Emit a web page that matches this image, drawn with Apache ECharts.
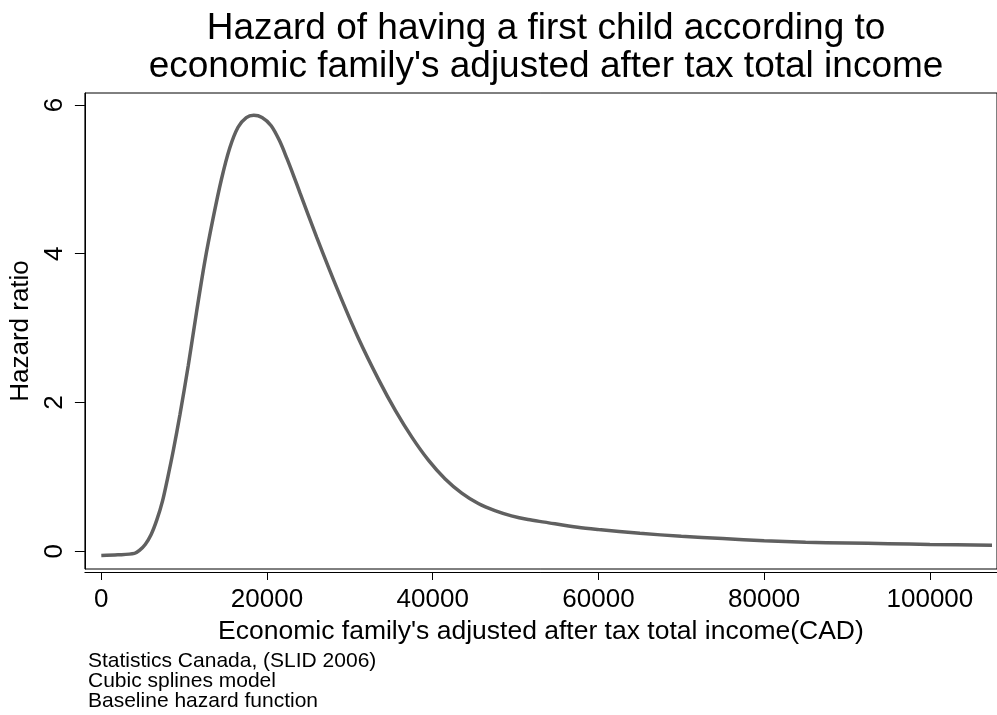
<!DOCTYPE html>
<html>
<head>
<meta charset="utf-8">
<script src="https://cdn.jsdelivr.net/npm/echarts@6/dist/echarts.min.js"></script>
<style>
  html, body { margin: 0; padding: 0; background: #fff; }
  #chart { width: 997px; height: 715px; }
</style>
</head>
<body>
<div id="chart"></div>
<script>
  // income (CAD) and baseline hazard ratio
  const income = [0, 2000, 4000, 4600, 5300, 6000, 6700, 7400, 8000, 8700, 9500,
    10500, 11500, 12500, 13500, 14500, 15500, 16500, 17500, 18400, 19400, 20500,
    21500, 22400, 23200, 24000, 26000, 28500, 31000, 33500, 35500, 37500, 39500,
    41500, 43500, 45500, 47500, 49500, 51500, 53500, 57500, 60000, 65000, 70000, 75000,
    80000, 85000, 90000, 95000, 100000, 107500]
  const hazard = [-0.06, -0.05, -0.03, 0.01, 0.09, 0.22, 0.42, 0.68, 0.98, 1.36, 1.84,
    2.50, 3.22, 3.90, 4.48, 5.00, 5.42, 5.70, 5.83, 5.86, 5.83, 5.72,
    5.52, 5.28, 5.05, 4.81, 4.22, 3.52, 2.87, 2.30, 1.89, 1.53, 1.22,
    0.97, 0.78, 0.64, 0.545, 0.475, 0.425, 0.39, 0.32, 0.29, 0.24, 0.20, 0.17,
    0.14, 0.12, 0.11, 0.10, 0.09, 0.08]
  const xTicks = [0, 20000, 40000, 60000, 80000, 100000]
  const yTicks = [0, 2, 4, 6]
  const notes = ['Statistics Canada, (SLID 2006)', 'Cubic splines model', 'Baseline hazard function']

  const font = 'Liberation Sans, Arial, sans-serif'
  const chart = echarts.init(document.getElementById('chart'))

  const option = {
    animation: false,
    backgroundColor: '#fff',
    title: [
      {
        text: "Hazard of having a first child according to\neconomic family's adjusted after tax total income",
        left: 546,
        top: 10,
        padding: 0,
        textAlign: 'center',
        textStyle: { fontFamily: font, fontSize: 37, fontWeight: 'normal', color: '#000', lineHeight: 38 }
      },
      {
        text: notes.join('\n'),
        left: 88,
        top: 651,
        padding: 0,
        textStyle: { fontFamily: font, fontSize: 21, fontWeight: 'normal', color: '#000', lineHeight: 20 }
      }
    ],
    grid: {
      left: 84,
      top: 93,
      width: 916,
      bottom: 146,
      show: true,
      borderColor: '#000',
      borderWidth: 1
    },
    xAxis: {
      type: 'value',
      min: -1980,
      max: 108100,
      name: "Economic family's adjusted after tax total income(CAD)",
      nameLocation: 'middle',
      nameGap: 38,
      nameTextStyle: { fontFamily: font, fontSize: 26.5, color: '#000' },
      offset: 3,
      axisLine: { show: true, onZero: false, lineStyle: { color: '#000', width: 1 } },
      axisTick: { show: true, length: 8, customValues: xTicks, lineStyle: { color: '#000' } },
      axisLabel: {
        customValues: xTicks, margin: 15, fontFamily: font, fontSize: 26, color: '#000',
        formatter: v => String(v)
      },
      splitLine: { show: false }
    },
    yAxis: {
      type: 'value',
      min: -0.24,
      max: 6.16,
      name: 'Hazard ratio',
      nameLocation: 'middle',
      nameGap: 46,
      nameTextStyle: { fontFamily: font, fontSize: 26, color: '#000' },
      axisLine: { show: true, onZero: false, lineStyle: { color: '#000', width: 1 } },
      axisTick: { show: true, length: 10, customValues: yTicks, lineStyle: { color: '#000' } },
      axisLabel: {
        customValues: yTicks, rotate: 90, margin: 17, fontFamily: font, fontSize: 26, color: '#000',
        formatter: v => String(v)
      },
      splitLine: { show: false }
    },
    series: [
      {
        type: 'line',
        data: income.map((x, i) => [x, hazard[i]]),
        showSymbol: false,
        smooth: 0.3,
        lineStyle: { color: '#606060', width: 3.5 },
        itemStyle: { color: '#606060' }
      }
    ]
  }
  chart.setOption(option)
</script>
</body>
</html>
